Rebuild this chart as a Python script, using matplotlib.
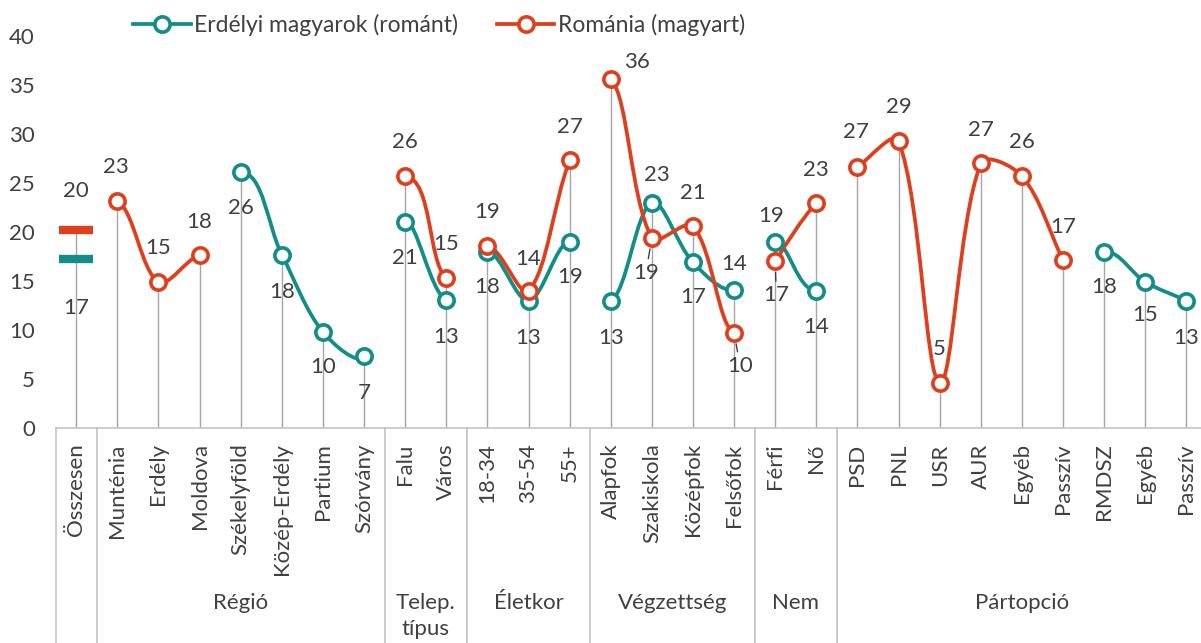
import numpy as np
import matplotlib
matplotlib.use('Agg')
import matplotlib.pyplot as plt
import matplotlib.transforms as mtransforms
from matplotlib.path import Path
from matplotlib.patches import PathPatch
from matplotlib.lines import Line2D

plt.rcParams['font.family'] = ['Lato', 'DejaVu Sans']

# Kategoriak es csoportok
kategoriak = ['Összesen', 'Munténia', 'Erdély', 'Moldova', 'Székelyföld', 'Közép-Erdély',
              'Partium', 'Szórvány', 'Falu', 'Város', '18-34', '35-54', '55+',
              'Alapfok', 'Szakiskola', 'Középfok', 'Felsőfok', 'Férfi', 'Nő',
              'PSD', 'PNL', 'USR', 'AUR', 'Egyéb', 'Passzív', 'RMDSZ', 'Egyéb', 'Passzív']
csoportok = ['', 'Régió', 'Telep.\ntípus', 'Életkor', 'Végzettség', 'Nem', 'Pártopció']
csoport_meret = [1, 7, 2, 3, 4, 2, 9]

nan = np.nan
erdelyi = [17.2, nan, nan, nan, 26.1, 17.7, 9.8, 7.3, 21.0, 13.1, 18.0, 13.0, 19.0,
           13.0, 23.0, 16.9, 14.1, 19.0, 14.0, nan, nan, nan, nan, nan, nan, 18.0, 14.9, 13.0]
romania = [20.2, 23.2, 14.9, 17.7, nan, nan, nan, nan, 25.7, 15.3, 18.6, 14.0, 27.3,
           35.6, 19.4, 20.6, 9.7, 17.0, 23.0, 26.6, 29.3, 4.6, 27.0, 25.7, 17.1, nan, nan, nan]

# cimke eltolasok pixelben (dx, dy), csak ahol van ertek
erdelyi_cimke = {0: (0, -49), 4: (0, -36), 5: (0, -37), 6: (0, -35), 7: (0, -37),
                 8: (0, -36), 9: (0, -37), 10: (0, -35), 11: (0, -37), 12: (0, -35),
                 13: (0, -37), 14: (5, 28), 15: (0, -35), 16: (0, 26), 17: (-4, 26),
                 18: (0, -36), 25: (0, -35), 26: (0, -33), 27: (0, -37)}
romania_cimke = {0: (0, 39), 1: (-1, 34), 2: (0, 34), 3: (0, 33), 8: (0, 34), 9: (0, 34),
                 10: (0, 34), 11: (0, 32), 12: (0, 33), 13: (26, 17), 14: (-6, -35),
                 15: (0, 33), 16: (6, -33), 17: (1, -34), 18: (0, 33), 19: (-2, 35),
                 20: (0, 34), 21: (0, 34), 22: (0, 33), 23: (0, 34), 24: (0, 33)}
vezeto_vonal = {'romania': [14, 16, 17]}

TEAL = '#128D89'
PIROS = '#DE3F1D'
SZURKE = '#A6A6A6'
KERET = '#C4C4C4'
SZOVEG = '#404040'


def simitott_vonal(ax, x, y, csoport, szin):
    # Excel-szeru simitott vonal, a csoportok kozti szakaszok rejtve
    idx = [i for i in range(len(y)) if not np.isnan(y[i])]
    pts = ax.transData.transform(np.column_stack([np.array(x)[idx], np.array(y)[idx]]))
    n = len(pts)
    ki, be = [], []
    for k in range(n):
        elozo = pts[k - 1] if k > 0 else pts[k]
        kov = pts[k + 1] if k < n - 1 else pts[k]
        m = kov - elozo
        d1 = np.linalg.norm(pts[k] - elozo)
        d2 = np.linalg.norm(kov - pts[k])
        ossz = d1 + d2
        ki.append(pts[k] + m * d2 / ossz / 3)
        be.append(pts[k] - m * d1 / ossz / 3)
    inv = ax.transData.inverted()
    for k in range(n - 1):
        if csoport[idx[k]] != csoport[idx[k + 1]] or csoport[idx[k]] == 0:
            continue
        v = inv.transform(np.array([pts[k], ki[k], be[k + 1], pts[k + 1]]))
        path = Path(v, [Path.MOVETO, Path.CURVE4, Path.CURVE4, Path.CURVE4])
        ax.add_patch(PathPatch(path, fill=False, edgecolor=szin, lw=2.7,
                               capstyle='round', joinstyle='round', zorder=3))


fig = plt.figure(figsize=(12.01, 6.43), dpi=100)
ax = fig.add_axes([0.0463, 0.3344, 0.9587, 0.6096])
x = np.arange(len(kategoriak))
ax.set_xlim(-0.5, len(kategoriak) - 0.5)
ax.set_ylim(0, 40)

csoport = np.repeat(np.arange(len(csoport_meret)), csoport_meret)

# fuggoleges vetito vonalak
teteje = np.nanmax(np.vstack([erdelyi, romania]), axis=0)
ax.vlines(x, 0, teteje, color=SZURKE, lw=1, zorder=1)

for adat, szin in [(erdelyi, TEAL), (romania, PIROS)]:
    simitott_vonal(ax, x, adat, csoport, szin)
    a = np.array(adat)
    ax.plot(x[1:], a[1:], 'o', ms=11, mfc='white', mec=szin, mew=2.6, ls='none', zorder=4)
    ax.plot(x[0], a[0], marker='_', ms=25, mew=6, color=szin, zorder=4)

# adatcimkek
for nev, adat, eltol in [('erdelyi', erdelyi, erdelyi_cimke), ('romania', romania, romania_cimke)]:
    for i, (dx, dy) in eltol.items():
        arrow = None
        if i in vezeto_vonal.get(nev, []):
            arrow = dict(arrowstyle='-', color=SZOVEG, lw=1, shrinkA=1, shrinkB=8)
        ax.annotate(f'{adat[i]:.0f}', (x[i], adat[i]), xytext=(dx, dy),
                    textcoords='offset pixels', ha='center', va='center',
                    fontsize=16, color=SZOVEG, arrowprops=arrow, zorder=5)

# tengelyek
for s in ['left', 'right', 'top']:
    ax.spines[s].set_visible(False)
ax.spines['bottom'].set_color(KERET)
ax.spines['bottom'].set_linewidth(1.2)
ax.set_yticks(range(0, 41, 5))
ax.tick_params(axis='y', length=0, pad=15, labelsize=16, labelcolor=SZOVEG)
ax.set_xticks(x)
ax.set_xticklabels(kategoriak, rotation=90, fontsize=16, color=SZOVEG)
ax.tick_params(axis='x', length=0, pad=11)

# csoport keretek es feliratok
trans = mtransforms.blended_transform_factory(ax.transData, ax.transAxes)
hatarok = np.concatenate([[0], np.cumsum(csoport_meret)]) - 0.5
for h in hatarok:
    ax.plot([h, h], [0, -0.7], color=KERET, lw=1.2, transform=trans, clip_on=False)
for k, nev in enumerate(csoportok):
    kozep = (hatarok[k] + hatarok[k + 1]) / 2
    ax.text(kozep, -0.42, nev, transform=trans, ha='center', va='top',
            fontsize=16, color=SZOVEG, linespacing=1.4)

# jelmagyarazat
kezelok = [Line2D([], [], color=TEAL, lw=2.7, marker='o', ms=11, mfc='white', mew=2.6),
           Line2D([], [], color=PIROS, lw=2.7, marker='o', ms=11, mfc='white', mew=2.6)]
fig.legend(kezelok, ['Erdélyi magyarok (románt)', 'Románia (magyart)'], loc='center',
           bbox_to_anchor=(439 / 1201, 1 - 25 / 643), ncol=2, frameon=False,
           fontsize=16.5, handlelength=2.5, handletextpad=0.15, columnspacing=1.7,
           labelcolor=SZOVEG)

fig.savefig('out.png', dpi=100)
